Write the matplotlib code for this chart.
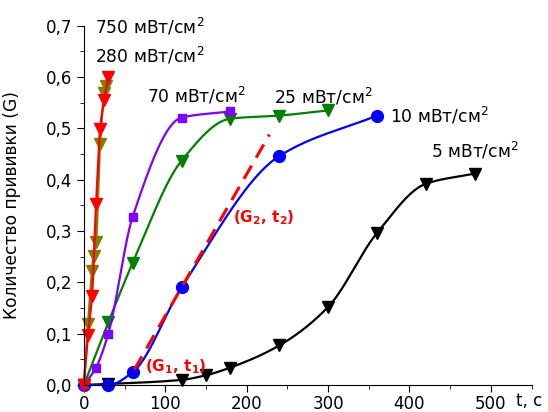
import numpy as np
import matplotlib
matplotlib.use("Agg")
import matplotlib.pyplot as plt
from matplotlib.ticker import MultipleLocator, FuncFormatter

plt.rcParams['font.family'] = ['DejaVu Sans']
plt.rcParams['mathtext.fontset'] = 'dejavusans'

# ---- данные: время (с) и количество прививки G ----
t_5 = [0, 30, 120, 150, 180, 240, 300, 360, 420, 480]
g_5 = [0, 0.002, 0.010, 0.019, 0.034, 0.077, 0.152, 0.296, 0.392, 0.412]

t_10 = [0, 30, 60, 120, 240, 360]
g_10 = [0, 0.0, 0.025, 0.190, 0.446, 0.525]

t_25 = [0, 30, 60, 120, 180, 240, 300]
g_25 = [0, 0.122, 0.238, 0.437, 0.519, 0.525, 0.535]

t_70 = [0, 15, 30, 60, 120, 180]
g_70 = [0, 0.034, 0.100, 0.328, 0.521, 0.533]

t_280 = [0, 5, 10, 12, 15, 20, 25, 27]
g_280 = [0, 0.118, 0.223, 0.252, 0.278, 0.470, 0.569, 0.582]

t_750 = [0, 5, 10, 15, 20, 25, 30]
g_750 = [0, 0.098, 0.174, 0.352, 0.499, 0.555, 0.601]

# касательная к кривой 10 мВт/см2
t_tan = [62, 228]
g_tan = [0.030, 0.488]


def pchip(x, y, xs):
    x = np.asarray(x, float)
    y = np.asarray(y, float)
    h = np.diff(x)
    d = np.diff(y) / h
    m = np.zeros_like(y)
    m[0], m[-1] = d[0], d[-1]
    for k in range(1, len(x) - 1):
        if d[k - 1] * d[k] > 0:
            w1 = 2 * h[k] + h[k - 1]
            w2 = h[k] + 2 * h[k - 1]
            m[k] = (w1 + w2) / (w1 / d[k - 1] + w2 / d[k])
    idx = np.clip(np.searchsorted(x, xs) - 1, 0, len(x) - 2)
    s = (xs - x[idx]) / h[idx]
    h00 = 2 * s**3 - 3 * s**2 + 1
    h10 = s**3 - 2 * s**2 + s
    h01 = -2 * s**3 + 3 * s**2
    h11 = s**3 - s**2
    return h00 * y[idx] + h10 * h[idx] * m[idx] + h01 * y[idx + 1] + h11 * h[idx] * m[idx + 1]


fig = plt.figure(figsize=(5.48, 4.12), dpi=100)
ax = fig.add_axes([0.153, 0.0655, 0.817, 0.872])

series = [
    (t_5, g_5, 'black', 'v', 8),
    (t_10, g_10, '#0000FF', 'o', 8.5),
    (t_25, g_25, '#008000', 'v', 8),
    (t_70, g_70, '#8000FF', 's', 6),
    (t_280, g_280, '#808000', 'v', 8),
    (t_750, g_750, '#FF0000', 'v', 8),
]
for t, g, c, mk, ms in series:
    ts = np.linspace(t[0], t[-1], 400)
    ax.plot(ts, pchip(t, g, ts), color=c, lw=1.6, clip_on=False)
    ax.plot(t, g, ls='none', marker=mk, ms=ms, color=c, clip_on=False)

ax.plot(t_tan, g_tan, color='#FF0000', lw=2.2, ls=(0, (5, 3)))

# подписи интенсивностей
fs = 12.3
ax.text(13.5, 0.6855, '750 мВт/см$^2$', fontsize=fs, va='baseline')
ax.text(13.5, 0.629, '280 мВт/см$^2$', fontsize=fs, va='baseline')
ax.text(77.5, 0.551, '70 мВт/см$^2$', fontsize=fs, va='baseline')
ax.text(233.6, 0.549, '25 мВт/см$^2$', fontsize=fs, va='baseline')
ax.text(376, 0.512, '10 мВт/см$^2$', fontsize=fs, va='baseline')
ax.text(426.6, 0.443, '5 мВт/см$^2$', fontsize=fs, va='baseline')

ax.text(75, 0.027, r'(G$_\mathbf{1}$, t$_\mathbf{1}$)', color='#FF0000',
        fontsize=11, fontweight='bold', va='baseline')
ax.text(183, 0.317, r'(G$_\mathbf{2}$, t$_\mathbf{2}$)', color='#FF0000',
        fontsize=11, fontweight='bold', va='baseline')

ax.set_xlim(0, 550)
ax.set_ylim(0, 0.7)
ax.spines['top'].set_visible(False)
ax.spines['right'].set_visible(False)
ax.xaxis.set_major_locator(MultipleLocator(100))
ax.xaxis.set_minor_locator(MultipleLocator(50))
ax.yaxis.set_major_locator(MultipleLocator(0.1))
ax.yaxis.set_minor_locator(MultipleLocator(0.05))
ax.yaxis.set_major_formatter(FuncFormatter(lambda v, p: f'{v:.1f}'.replace('.', ',')))
ax.tick_params(which='major', direction='out', length=5, labelsize=12)
ax.tick_params(axis='x', which='major', pad=2)
ax.tick_params(which='minor', direction='out', length=3)

ax.set_ylabel('Количество прививки (G)', fontsize=12.3)
ax.yaxis.set_label_coords(-0.14, 0.5)
fig.text(529 / 548, 1 - 401 / 412, 't, c', fontsize=12, ha='center', va='center')

fig.savefig('out.png', dpi=100)
